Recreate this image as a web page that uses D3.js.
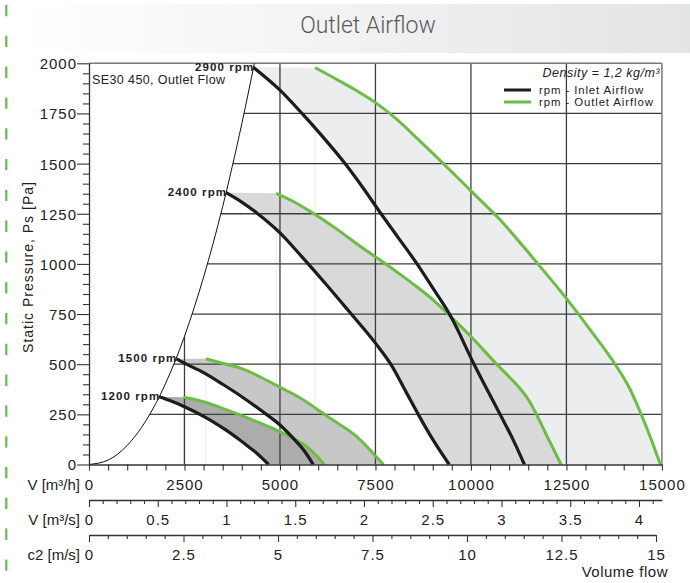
<!DOCTYPE html>
<html><head><meta charset="utf-8">
<script src="https://cdn.jsdelivr.net/npm/d3@7"></script>
<style>
html,body{margin:0;padding:0;background:#fff;}
svg{display:block;font-family:"Liberation Sans",Arial,Helvetica,sans-serif;}
</style></head><body>
<svg id="chart" width="690" height="583"></svg>
<script>
// ---------- data ----------
const chartTitle = "Outlet Airflow";
const subtitle = "SE30 450, Outlet Flow";
const densityNote = "Density = 1,2 kg/m\u00B3";
const legendLabels = ["rpm -  Inlet Airflow", "rpm -  Outlet Airflow"];
const rpmLabels = ["2900 rpm", "2400 rpm", "1500 rpm", "1200 rpm"];

// system (resistance) curve: [V m3/h, Ps Pa]
const systemCurve = [[0,0],[500,22],[1000,95],[1500,221],[2000,402],[2500,639],[3000,934],[3500,1286],[4000,1698],[4330,2000]];

const inlet2900 = [[4300,1980],[5000,1866],[5577,1750],[6100,1638],[6703,1500],[7200,1372],[7646,1250],[8100,1130],[8589,1000],[9000,880],[9453,745],[10081,500],[10762,250],[11100,125],[11400,0]];
const outlet2900 = [[5920,1978],[6500,1918],[7000,1864],[7500,1804],[8000,1730],[8667,1612],[9278,1500],[9715,1418],[10000,1364],[10762,1220],[11700,1012],[12498,828],[13119,672],[13773,500],[14166,375],[14446,255],[14690,140],[14960,0]];

const inlet2400 = [[3590,1355],[4000,1308],[4400,1253],[5000,1155],[5600,1030],[6200,900],[6800,765],[7500,605],[7900,500],[8300,362],[8620,250],[9000,125],[9430,0]];
const outlet2400 = [[4900,1352],[5300,1316],[5700,1272],[6100,1224],[6570,1162],[7000,1102],[7500,1035],[8000,968],[8500,898],[9000,822],[9430,745],[10000,638],[10675,500],[11000,437],[11300,375],[11500,325],[11680,263],[11850,198],[12000,138],[12200,62],[12360,0]];

const inlet1500 = [[2290,527],[2500,505],[3000,458],[3500,400],[4000,338],[4500,270],[5000,197],[5400,120],[5650,65],[5870,0]];
const outlet1500 = [[3060,527],[3400,510],[3700,495],[4000,478],[4500,435],[5000,385],[5500,335],[6000,272],[6300,232],[6600,195],[7000,140],[7360,72],[7550,32],[7710,0]];

const inlet1200 = [[1840,338],[2100,320],[2500,288],[3000,240],[3250,213],[3600,170],[3950,122],[4200,85],[4400,55],[4700,0]];
const outlet1200 = [[2470,335],[2900,318],[3255,297],[3600,272],[3950,247],[4500,205],[5000,164],[5400,125],[5700,89],[5950,45],[6160,0]];

const inletSeries = [inlet2900, inlet2400, inlet1500, inlet1200];
const outletSeries = [outlet2900, outlet2400, outlet1500, outlet1200];

// axes
const flowMax = 15000;             // m3/h
const pressureMax = 2000;          // Pa
const flowLabels = [0,2500,5000,7500,10000,12500,15000];
const flowMinorStep = 500;
const pressureLabels = [0,250,500,750,1000,1250,1500,1750,2000];
const pressureMinorStep = 50;
const flowSecMax = 15000/3600;     // m3/s at right end
const flowSecLabels = [0,0.5,1,1.5,2,2.5,3,3.5,4];
const flowSecMinorStep = 0.1;
const c2Max = 15;                   // m/s
const c2Labels = [0,2.5,5,7.5,10,12.5,15];
const c2MinorStep = 0.5;

// ---------- styles ----------
const bandFills = ["#ecedef", "#d9d9da", "#c7c7c7", "#acacac"];
const inletColor = "#1c1c1c";
const outletColor = "#6cbd45";
const gridColor = "#3d3d3d";

// ---------- drawing ----------
const svg = d3.select("#chart");
const L = 89, R = 661.9, T = 63.3, B = 464.5;
const x = d3.scaleLinear().domain([0, flowMax]).range([L, R]);
const y = d3.scaleLinear().domain([0, pressureMax]).range([B, T]);
const xs = d3.scaleLinear().domain([0, flowSecMax]).range([L, R]);
const xc = d3.scaleLinear().domain([0, c2Max]).range([L, 656]);

// left green dashes
svg.append("line").attr("x1",6.3).attr("x2",6.3).attr("y1",5).attr("y2",583)
  .attr("stroke","#5cbf4a").attr("stroke-width",2.2).attr("stroke-dasharray","11.3,19.5");

// title banner
const defs = svg.append("defs");
const grad = defs.append("linearGradient").attr("id","banner").attr("x1","0%").attr("x2","100%");
grad.append("stop").attr("offset","0%").attr("stop-color","#ffffff");
grad.append("stop").attr("offset","100%").attr("stop-color","#e3e4e6");
svg.append("rect").attr("x",22).attr("y",4).attr("width",668).attr("height",49).attr("fill","url(#banner)");
svg.append("text").attr("x",368).attr("y",33).attr("text-anchor","middle")
  .attr("font-family","Roboto, 'Liberation Sans', Arial, sans-serif").attr("font-weight",300)
  .attr("font-size",23).attr("fill","#5a5a5a").text(chartTitle);

const lineGen = d3.line().x(d => x(d[0])).y(d => y(d[1])).curve(d3.curveMonotoneX);

// faint seams at outlet starts
outletSeries.forEach(o => {
  svg.append("line").attr("x1", x(o[0][0])).attr("x2", x(o[0][0]))
    .attr("y1", y(0)).attr("y2", y(o[0][1])).attr("stroke","#ebebeb").attr("stroke-width",1);
});

// bands
inletSeries.forEach((inl, i) => {
  const out = outletSeries[i].slice().reverse();
  const d = lineGen(inl) + "L" + lineGen(out).slice(1) + "Z";
  svg.append("path").attr("d", d).attr("fill", bandFills[i]);
});

// grid
const grid = svg.append("g").attr("stroke", gridColor).attr("stroke-width",1.3);
pressureLabels.filter(v => v > 0 && v < pressureMax).forEach(v => {
  grid.append("line").attr("x1", L).attr("x2", R).attr("y1", y(v)).attr("y2", y(v));
});
flowLabels.filter(v => v > 0 && v < flowMax).forEach(v => {
  grid.append("line").attr("x1", x(v)).attr("x2", x(v)).attr("y1", B).attr("y2", T);
});

// white area left of the system curve
const sysTop = systemCurve[systemCurve.length-1];
svg.append("path")
  .attr("d", lineGen(systemCurve) + `L${x(sysTop[0])},${T-1}L${L},${T-1}Z`)
  .attr("fill","#fff");

// plot frame
svg.append("line").attr("x1",L).attr("x2",R).attr("y1",T).attr("y2",T).attr("stroke","#7a7a7a").attr("stroke-width",1.5);
svg.append("line").attr("x1",R).attr("x2",R).attr("y1",T).attr("y2",B).attr("stroke","#7a7a7a").attr("stroke-width",1.5);

// system curve
svg.append("path").attr("d", lineGen(systemCurve)).attr("fill","none").attr("stroke","#111").attr("stroke-width",1);

// curves
outletSeries.forEach(o => svg.append("path").attr("d", lineGen(o)).attr("fill","none")
  .attr("stroke", outletColor).attr("stroke-width",3).attr("stroke-linecap","butt"));
inletSeries.forEach(o => svg.append("path").attr("d", lineGen(o)).attr("fill","none")
  .attr("stroke", inletColor).attr("stroke-width",3.2).attr("stroke-linecap","butt"));

// rpm labels
inletSeries.forEach((inl, i) => {
  svg.append("text").attr("x", x(inl[0][0]) + 1).attr("y", y(inl[0][1]) + 3.5)
    .attr("text-anchor","end").attr("font-weight","bold").attr("font-size",11.5)
    .attr("letter-spacing",1.1).attr("fill","#222").text(rpmLabels[i]);
});

// subtitle
svg.append("text").attr("x",92).attr("y",84).attr("font-size",12.5).attr("letter-spacing",0.4)
  .attr("fill","#222").text(subtitle);

// legend
svg.append("text").attr("x",660).attr("y",77).attr("text-anchor","end").attr("font-style","italic")
  .attr("font-size",12.5).attr("letter-spacing",0.5).attr("fill","#222").text(densityNote);
[inletColor, outletColor].forEach((c, i) => {
  svg.append("line").attr("x1",504).attr("x2",531).attr("y1",90 + i*12).attr("y2",90 + i*12)
    .attr("stroke", c).attr("stroke-width",3);
  svg.append("text").attr("x",539).attr("y",94 + i*12).attr("font-size",11.4).attr("letter-spacing",0.9)
    .attr("fill","#222").text(legendLabels[i]);
});

// ---------- axes ----------
function styleAxis(g){
  g.attr("font-family", null).attr("font-size", null);
  g.select(".domain").attr("stroke","#333").attr("stroke-width",1.3);
  g.selectAll(".tick line").attr("stroke","#333").attr("stroke-width",1.1);
  g.selectAll(".tick text").attr("fill","#222").attr("font-size",15).attr("letter-spacing",1);
}
const near = (a, b) => Math.abs(a - b) < 1e-6;
const isIn = (arr, v) => arr.some(a => near(a, v));

// flow m3/h
const flowMinor = d3.range(0, flowMax/flowMinorStep + 1).map(i => i*flowMinorStep);
const gx = svg.append("g").attr("transform",`translate(0,${B})`)
  .call(d3.axisBottom(x).tickValues(flowMinor).tickSize(6).tickSizeOuter(0)
    .tickFormat(d => isIn(flowLabels, d) ? String(d) : ""));
styleAxis(gx);
gx.selectAll(".tick text").attr("y",25.5).attr("dy",null);

// pressure
const pMinor = d3.range(0, pressureMax/pressureMinorStep + 1).map(i => i*pressureMinorStep);
const gy = svg.append("g").attr("transform",`translate(${L},0)`)
  .call(d3.axisLeft(y).tickValues(pMinor).tickSize(6).tickSizeOuter(0)
    .tickFormat(d => isIn(pressureLabels, d) ? String(d) : ""));
styleAxis(gy);
gy.selectAll(".tick line").attr("x2", d => isIn(pressureLabels, d) ? -12 : -6);
gy.selectAll(".tick text").attr("x",-12).attr("dy","0.36em");

// m3/s
const secMinor = d3.range(0, Math.floor(flowSecMax/flowSecMinorStep + 1e-9) + 1).map(i => +(i*flowSecMinorStep).toFixed(1));
const gs = svg.append("g").attr("transform","translate(0,500)")
  .call(d3.axisBottom(xs).tickValues(secMinor).tickSize(4).tickSizeOuter(0)
    .tickFormat(d => isIn(flowSecLabels, d) ? String(d) : ""));
styleAxis(gs);
gs.selectAll(".tick line").attr("y2", d => isIn(flowSecLabels, d) ? 7 : 4);
gs.selectAll(".tick text").attr("y",25).attr("dy",null);

// c2
const c2Minor = d3.range(0, c2Max/c2MinorStep + 1).map(i => i*c2MinorStep);
const gc = svg.append("g").attr("transform","translate(0,535)")
  .call(d3.axisBottom(xc).tickValues(c2Minor).tickSize(4).tickSizeOuter(0)
    .tickFormat(d => isIn(c2Labels, d) ? String(d) : ""));
styleAxis(gc);
gc.selectAll(".tick line").attr("y2", d => isIn(c2Labels, d) ? 7 : 4);
gc.selectAll(".tick text").attr("y",25).attr("dy",null);

// axis names
const axisNames = [["V [m\u00B3/h]", 490], ["V [m\u00B3/s]", 525], ["c2 [m/s]", 560]];
axisNames.forEach(a => svg.append("text").attr("x",80).attr("y",a[1]).attr("text-anchor","end")
  .attr("font-size",15).attr("fill","#222").text(a[0]));
svg.append("text").attr("x",668).attr("y",577).attr("text-anchor","end").attr("font-size",15)
  .attr("letter-spacing",0.5).attr("fill","#222").text("Volume flow");
svg.append("text").attr("transform","translate(33,267) rotate(-90)").attr("text-anchor","middle")
  .attr("font-size",14).attr("letter-spacing",1).attr("fill","#222").text("Static Pressure, Ps [Pa]");
</script>
</body></html>
